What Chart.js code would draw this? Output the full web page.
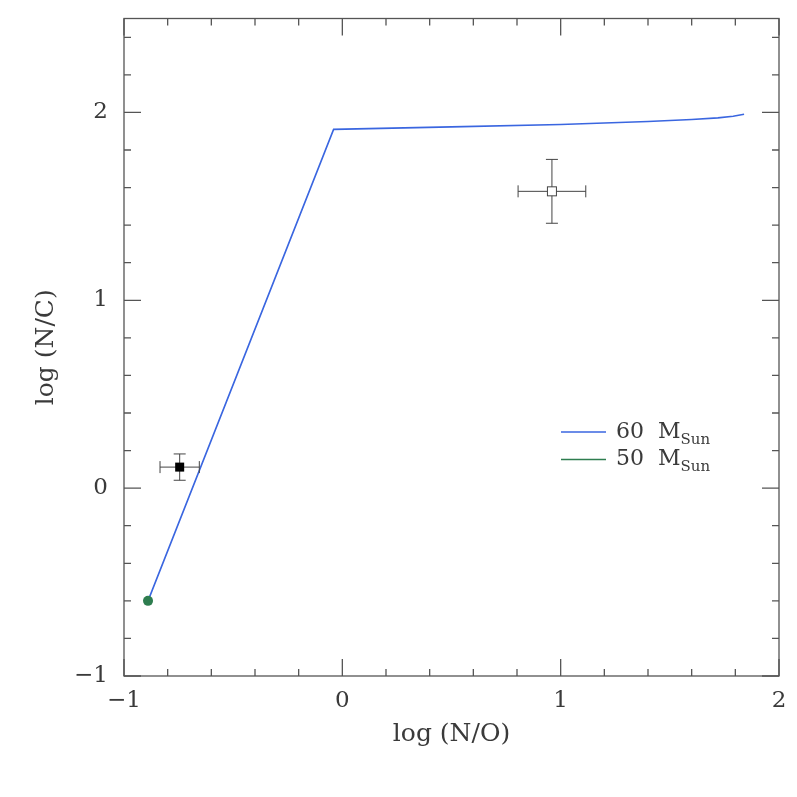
<!DOCTYPE html>
<html>
<head>
<meta charset="utf-8">
<script src="https://cdn.jsdelivr.net/npm/chart.js@4.4.0/dist/chart.umd.min.js"></script>
<style>
  body { margin: 0; background: #fff; }
  #wrap { width: 797px; height: 797px; }
</style>
</head>
<body>
<div id="wrap"><canvas id="myChart" width="797" height="797"></canvas></div>
<script>
// track of the 60 Msun model
var track60X = [-0.89, -0.04, 0.5, 1.0, 1.4, 1.6, 1.72, 1.79, 1.84];
var track60Y = [-0.60, 1.91, 1.923, 1.936, 1.952, 1.962, 1.971, 1.98, 1.99];
// 50 Msun model, only its start point shows
var track50X = [-0.89];
var track50Y = [-0.60];
// observed stars: x, y, x error, y error
var starX = [-0.745, 0.96];
var starY = [0.112, 1.58];
var starXErr = [0.09, 0.155];
var starYErr = [0.07, 0.17];
var starFilled = [true, false];

var xTicks = [-1, 0, 1, 2];
var yTicks = [-1, 0, 1, 2];
var minorStep = 0.2;

var legendLabels = ['60', '50'];
var serif = '"DejaVu Serif", "Liberation Serif", serif';

function pts(xs, ys) {
    return xs.map(function (x, i) { return { x: x, y: ys[i] }; });
}

// box, inward ticks, labels, error bars and legend
const framePlugin = {
    id: 'frame',
    afterDatasetsDraw(chart) {
        const ctx = chart.ctx;
        const a = chart.chartArea;
        const xs = chart.scales.x, ys = chart.scales.y;
        ctx.save();

        // error bars
        ctx.strokeStyle = '#444';
        ctx.lineWidth = 1;
        for (var i = 0; i < starX.length; i++) {
            var px = xs.getPixelForValue(starX[i]);
            var py = ys.getPixelForValue(starY[i]);
            var x0 = xs.getPixelForValue(starX[i] - starXErr[i]);
            var x1 = xs.getPixelForValue(starX[i] + starXErr[i]);
            var y0 = ys.getPixelForValue(starY[i] - starYErr[i]);
            var y1 = ys.getPixelForValue(starY[i] + starYErr[i]);
            ctx.beginPath();
            ctx.moveTo(x0, py); ctx.lineTo(x1, py);
            ctx.moveTo(x0, py - 6); ctx.lineTo(x0, py + 6);
            ctx.moveTo(x1, py - 6); ctx.lineTo(x1, py + 6);
            ctx.moveTo(px, y0); ctx.lineTo(px, y1);
            ctx.moveTo(px - 6, y0); ctx.lineTo(px + 6, y0);
            ctx.moveTo(px - 6, y1); ctx.lineTo(px + 6, y1);
            ctx.stroke();
            if (starFilled[i]) {
                ctx.fillStyle = '#000';
                ctx.fillRect(px - 4.5, py - 4.5, 9, 9);
            } else {
                ctx.fillStyle = '#fff';
                ctx.fillRect(px - 4.5, py - 4.5, 9, 9);
                ctx.strokeRect(px - 4.5, py - 4.5, 9, 9);
            }
        }

        // frame
        ctx.strokeStyle = '#555';
        ctx.lineWidth = 1.3;
        ctx.strokeRect(a.left, a.top, a.right - a.left, a.bottom - a.top);

        // inward ticks
        ctx.beginPath();
        for (var v = xs.min; v <= xs.max + 1e-6; v += minorStep) {
            var major = Math.abs(v - Math.round(v)) < 1e-6;
            var len = major ? 17 : 7;
            var p = xs.getPixelForValue(v);
            ctx.moveTo(p, a.bottom); ctx.lineTo(p, a.bottom - len);
            ctx.moveTo(p, a.top); ctx.lineTo(p, a.top + len);
        }
        for (var w = ys.min; w <= ys.max + 1e-6; w += minorStep) {
            var majorY = Math.abs(w - Math.round(w)) < 1e-6;
            var lenY = majorY ? 17 : 7;
            var q = ys.getPixelForValue(w);
            ctx.moveTo(a.left, q); ctx.lineTo(a.left + lenY, q);
            ctx.moveTo(a.right, q); ctx.lineTo(a.right - lenY, q);
        }
        ctx.stroke();

        // tick labels
        ctx.fillStyle = '#3a3a3a';
        ctx.font = '23px ' + serif;
        ctx.textAlign = 'center';
        ctx.textBaseline = 'middle';
        xTicks.forEach(function (t) {
            ctx.fillText(String(t).replace('-', '\u2212'), xs.getPixelForValue(t), a.bottom + 25);
        });
        ctx.textAlign = 'right';
        yTicks.forEach(function (t) {
            ctx.fillText(String(t).replace('-', '\u2212'), a.left - 16, ys.getPixelForValue(t));
        });

        // axis titles
        ctx.font = '25px ' + serif;
        ctx.textAlign = 'center';
        ctx.fillText('log (N/O)', (a.left + a.right) / 2, a.bottom + 58);
        ctx.save();
        ctx.translate(46, (a.top + a.bottom) / 2);
        ctx.rotate(-Math.PI / 2);
        ctx.fillText('log (N/C)', 0, 0);
        ctx.restore();

        // legend
        var lx = 561, ly = 432;
        chart.data.datasets.forEach(function (ds, k) {
            if (!ds.legend) return;
            var yy = ly + k * 27.5;
            ctx.strokeStyle = ds.borderColor;
            ctx.lineWidth = 1.5;
            ctx.beginPath();
            ctx.moveTo(lx, yy); ctx.lineTo(lx + 45, yy);
            ctx.stroke();
            ctx.fillStyle = '#3a3a3a';
            ctx.textAlign = 'left';
            ctx.font = '22px ' + serif;
            ctx.fillText(ds.legend + '  M', lx + 55, yy);
            var tw = ctx.measureText(ds.legend + '  M').width;
            ctx.font = '15px ' + serif;
            ctx.fillText('Sun', lx + 55 + tw, yy + 8);
        });
        ctx.restore();
    }
};

const ctx = document.getElementById('myChart');

var c = new Chart(ctx, {
    type: 'scatter',
    data: {
        datasets: [{
            label: '60 MSun',
            legend: legendLabels[0],
            data: pts(track60X, track60Y),
            showLine: true,
            borderColor: '#3a66e0',
            borderWidth: 1.6,
            pointRadius: 0,
            tension: 0,
            order: 2
        }, {
            label: '50 MSun',
            legend: legendLabels[1],
            data: pts(track50X, track50Y),
            borderColor: '#2e7d4f',
            backgroundColor: '#2e7d4f',
            pointRadius: 5,
            pointBorderWidth: 0,
            order: 1
        }]
    },
    options: {
        responsive: false,
        animation: false,
        layout: { padding: { left: 124, right: 18, top: 18.5, bottom: 121 } },
        scales: {
            x: { type: 'linear', min: -1, max: 2, display: false },
            y: { type: 'linear', min: -1, max: 2.5, display: false }
        },
        plugins: {
            legend: { display: false },
            tooltip: { enabled: false }
        }
    },
    plugins: [framePlugin]
});
</script>
</body>
</html>
